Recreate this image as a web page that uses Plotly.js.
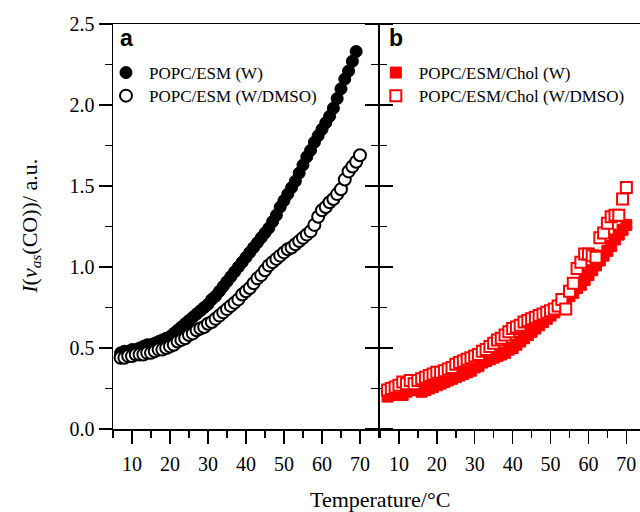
<!DOCTYPE html>
<html>
<head>
<meta charset="utf-8">
<script src="https://cdn.plot.ly/plotly-3.0.1.min.js"></script>
<style>html,body{margin:0;padding:0;background:#fff;}#chart{width:640px;height:512px;}</style>
</head>
<body>
<div id="chart"></div>
<script>
// Panel a: POPC/ESM
var tempA = [7,8,9,10,11,12,13,14,15,16,17,18,19,20,21,22,23,24,25,26,27,28,29,30,31,32,33,34,35,36,37,38,39,40,41,42,43,44,45,46,47,48,49,50,51,52,53,54,55,56,57,58,59,60,61,62,63,64,65,66,67,68,69];
var popcEsmW = [0.47,0.48,0.48,0.49,0.49,0.50,0.51,0.52,0.52,0.53,0.54,0.55,0.56,0.57,0.59,0.61,0.63,0.65,0.67,0.69,0.71,0.73,0.75,0.77,0.80,0.82,0.85,0.88,0.91,0.94,0.97,1.00,1.03,1.06,1.09,1.12,1.15,1.18,1.21,1.24,1.28,1.32,1.37,1.41,1.45,1.49,1.53,1.58,1.63,1.68,1.72,1.77,1.81,1.85,1.89,1.93,1.98,2.04,2.10,2.16,2.21,2.27,2.33];
var tempA2 = [7,8,9,10,11,12,13,14,15,16,17,18,19,20,21,22,23,24,25,26,27,28,29,30,31,32,33,34,35,36,37,38,39,40,41,42,43,44,45,46,47,48,49,50,51,52,53,54,55,56,57,58,59,60,61,62,63,64,65,66,67,68,69,70];
var popcEsmWD = [0.44,0.44,0.45,0.45,0.46,0.46,0.46,0.47,0.47,0.48,0.49,0.49,0.50,0.51,0.52,0.54,0.55,0.56,0.58,0.59,0.61,0.62,0.63,0.65,0.66,0.68,0.70,0.72,0.74,0.76,0.78,0.80,0.83,0.85,0.87,0.90,0.93,0.95,0.98,1.01,1.03,1.05,1.07,1.09,1.11,1.12,1.14,1.16,1.18,1.20,1.22,1.26,1.31,1.35,1.37,1.40,1.42,1.45,1.48,1.54,1.59,1.62,1.65,1.69];

// Panel b: POPC/ESM/Chol
var tempB = [7,8,9,10,11,12,13,14,15,16,17,18,19,20,21,22,23,24,25,26,27,28,29,30,31,32,33,34,35,36,37,38,39,40,41,42,43,44,45,46,47,48,49,50,51,52,53,54,55,56,57,58,59,60,61,62,63,64,65,66,67,68,69,70];
var cholW = [0.20,0.21,0.22,0.22,0.21,0.23,0.24,0.24,0.25,0.23,0.24,0.25,0.26,0.27,0.28,0.29,0.30,0.31,0.32,0.33,0.34,0.35,0.36,0.38,0.39,0.41,0.42,0.43,0.44,0.45,0.46,0.47,0.49,0.50,0.52,0.54,0.56,0.58,0.60,0.62,0.64,0.66,0.68,0.70,0.72,0.74,0.77,0.79,0.82,0.84,0.87,0.89,0.92,0.95,0.98,1.01,1.04,1.07,1.10,1.13,1.17,1.20,1.23,1.26];
var cholWD = [0.24,0.25,0.26,0.27,0.29,0.28,0.30,0.28,0.30,0.31,0.32,0.33,0.34,0.35,0.35,0.36,0.37,0.38,0.40,0.41,0.42,0.43,0.44,0.45,0.46,0.48,0.49,0.51,0.53,0.55,0.56,0.58,0.60,0.62,0.63,0.64,0.66,0.67,0.68,0.69,0.70,0.71,0.72,0.73,0.74,0.76,0.80,0.74,0.85,0.90,0.99,1.03,1.08,1.08,1.07,1.06,1.18,1.21,1.27,1.31,1.32,1.32,1.42,1.49];

var xTicks = [10,20,30,40,50,60,70];
var yTicks = [0.0,0.5,1.0,1.5,2.0,2.5];
var yTickText = ['0.0','0.5','1.0','1.5','2.0','2.5'];

var serif = 'Liberation Serif, Times New Roman, serif';

var traces = [
  {x: tempA, y: popcEsmW, xaxis:'x', yaxis:'y', mode:'markers', type:'scatter', name:'POPC/ESM (W)', legend:'legend',
   marker:{symbol:'circle', size:12, color:'#000', line:{color:'#000', width:1}}},
  {x: tempA2, y: popcEsmWD, xaxis:'x', yaxis:'y', mode:'markers', type:'scatter', name:'POPC/ESM (W/DMSO)', legend:'legend2',
   marker:{symbol:'circle', size:12, color:'#fff', line:{color:'#000', width:2}}},
  {x: tempB, y: cholW, xaxis:'x2', yaxis:'y2', mode:'markers', type:'scatter', name:'POPC/ESM/Chol (W)', legend:'legend3',
   marker:{symbol:'square', size:11, color:'#ff0000', line:{color:'#ff0000', width:1}}},
  {x: tempB, y: cholWD, xaxis:'x2', yaxis:'y2', mode:'markers', type:'scatter', name:'POPC/ESM/Chol (W/DMSO)', legend:'legend4',
   marker:{symbol:'square', size:11, color:'#fff', line:{color:'#ff0000', width:2}}}
];

function xAx(domain, range){
  return {domain:domain, range:range, tickvals:xTicks, ticks:'outside', ticklen:13, tickwidth:1.5, tickcolor:'#000',
    minor:{dtick:5, tick0:5, ticks:'outside', ticklen:7, tickwidth:1.5, tickcolor:'#000'},
    showline:true, linecolor:'#000', linewidth:1.5, mirror:true, showgrid:false, zeroline:false,
    ticklabelstandoff:3,
    tickfont:{family:serif, size:20, color:'#000'}, fixedrange:true};
}
function yAx(anchor, showLabels){
  return {anchor:anchor, domain:[0,1], range:[0,2.5], tickvals:yTicks, ticktext:yTickText, showticklabels:showLabels,
    ticks:'outside', ticklen:13, tickwidth:1.5, tickcolor:'#000',
    minor:{dtick:0.25, tick0:0, ticks:'outside', ticklen:7, tickwidth:1.5, tickcolor:'#000'},
    showline:true, linecolor:'#000', linewidth:1.5, mirror:'ticks', showgrid:false, zeroline:false,
    tickfont:{family:serif, size:20, color:'#000'}, fixedrange:true};
}
function leg(x, y){
  return {x:x, y:y, xanchor:'left', yanchor:'middle', bgcolor:'rgba(0,0,0,0)', borderwidth:0,
    font:{family:serif, size:17, color:'#000'}, itemwidth:36, tracegroupgap:0};
}

var layout = {
  width:640, height:512,
  margin:{l:113, r:0, t:24, b:83},
  paper_bgcolor:'#fff', plot_bgcolor:'#fff',
  xaxis: xAx([0,0.5047],[5,75]),
  xaxis2: Object.assign(xAx([0.5066,1],[5,73.6]), {anchor:'y2'}),
  yaxis: yAx('x', true),
  yaxis2: yAx('x2', false),
  showlegend:true,
  legend: leg(-0.019, 0.879),
  legend2: leg(-0.019, 0.822),
  legend3: leg(0.493, 0.879),
  legend4: leg(0.493, 0.822),
  annotations:[
    {text:'<b>a</b>', xref:'paper', yref:'paper', x:0.0247, y:0.965, xanchor:'center', yanchor:'middle', showarrow:false,
     font:{family:'Liberation Sans, Arial, sans-serif', size:23, color:'#000'}},
    {text:'<b>b</b>', xref:'paper', yref:'paper', x:0.537, y:0.965, xanchor:'center', yanchor:'middle', showarrow:false,
     font:{family:'Liberation Sans, Arial, sans-serif', size:23, color:'#000'}},
    {text:'Temperature/°C', xref:'paper', yref:'paper', x:0.5066, y:-0.175, xanchor:'center', yanchor:'middle', showarrow:false,
     font:{family:serif, size:22, color:'#000'}},
    {text:'<i>I</i>(<i>ν</i><sub><i>as</i></sub>(CO))/ a.u.', xref:'paper', yref:'paper', x:-0.157, y:0.5, xanchor:'center', yanchor:'middle',
     textangle:-90, showarrow:false, font:{family:serif, size:22, color:'#000'}}
  ]
};

Plotly.newPlot('chart', traces, layout, {displayModeBar:false, staticPlot:true});
</script>
</body>
</html>
